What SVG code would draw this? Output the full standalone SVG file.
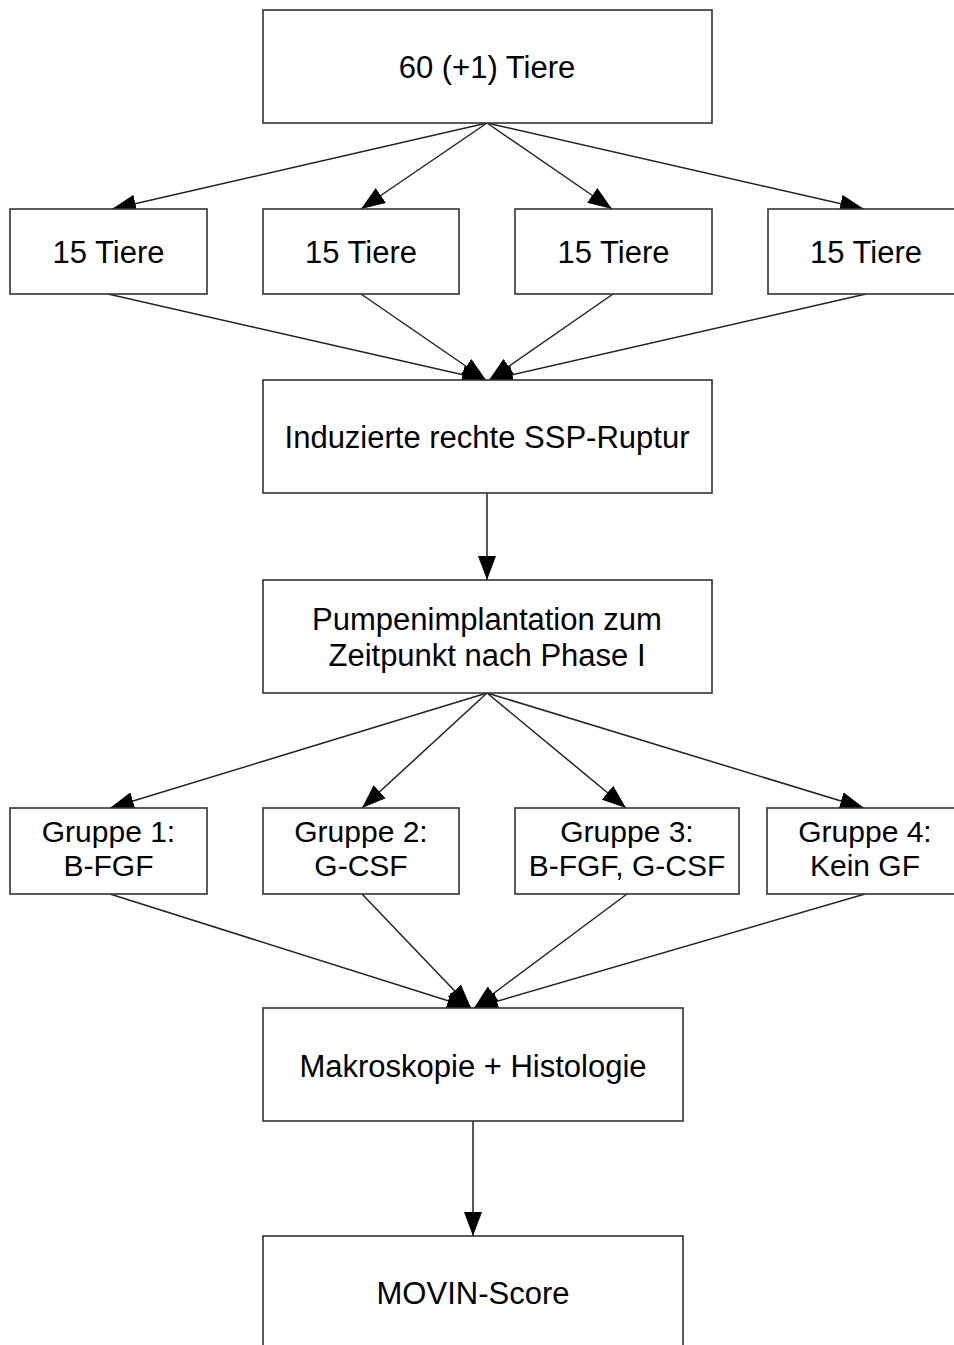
<svg xmlns="http://www.w3.org/2000/svg" width="954" height="1345" viewBox="0 0 954 1345">
<defs>
<marker id="arr" markerUnits="userSpaceOnUse" markerWidth="24" markerHeight="18" refX="24" refY="9" orient="auto">
<path d="M0,0 L24,9 L0,18 z" fill="#000"/>
</marker>
<style>
.box{fill:#fff;stroke:#333;stroke-width:1.6}
.lbl{font-family:"Liberation Sans",Arial,sans-serif;font-size:31px;fill:#000;text-anchor:middle}
.grp{font-size:30px}
.con{stroke:#222;stroke-width:1.5;fill:none;marker-end:url(#arr)}
</style>
</defs>
<rect width="954" height="1345" fill="#fff"/>
<g id="connectors">
<line class="con" x1="487" y1="123" x2="112" y2="209"/>
<line class="con" x1="487" y1="123" x2="361" y2="209"/>
<line class="con" x1="487" y1="123" x2="612" y2="209"/>
<line class="con" x1="487" y1="123" x2="864" y2="209"/>
<line class="con" x1="108" y1="294" x2="486" y2="380"/>
<line class="con" x1="361" y1="294" x2="486" y2="380"/>
<line class="con" x1="613" y1="294" x2="489" y2="380"/>
<line class="con" x1="866" y1="294" x2="489" y2="380"/>
<line class="con" x1="487" y1="493" x2="487" y2="580"/>
<line class="con" x1="487" y1="693" x2="110" y2="808"/>
<line class="con" x1="487" y1="693" x2="362" y2="808"/>
<line class="con" x1="487" y1="693" x2="626" y2="808"/>
<line class="con" x1="487" y1="693" x2="864" y2="808"/>
<line class="con" x1="110" y1="894" x2="471" y2="1008"/>
<line class="con" x1="362" y1="894" x2="471" y2="1008"/>
<line class="con" x1="627" y1="894" x2="474" y2="1008"/>
<line class="con" x1="865" y1="894" x2="474" y2="1008"/>
<line class="con" x1="473" y1="1121" x2="473" y2="1236"/>
</g>
<g id="n-top"><rect class="box" x="263" y="10" width="449" height="113"/><text class="lbl" x="487" y="78">60 (+1) Tiere</text></g>
<g id="n-t1"><rect class="box" x="10" y="209" width="197" height="85"/><text class="lbl" x="108.5" y="263">15 Tiere</text></g>
<g id="n-t2"><rect class="box" x="263" y="209" width="196" height="85"/><text class="lbl" x="361" y="263">15 Tiere</text></g>
<g id="n-t3"><rect class="box" x="515" y="209" width="197" height="85"/><text class="lbl" x="613.5" y="263">15 Tiere</text></g>
<g id="n-t4"><rect class="box" x="768" y="209" width="197" height="85"/><text class="lbl" x="866" y="263">15 Tiere</text></g>
<g id="n-ssp"><rect class="box" x="263" y="380" width="449" height="113"/><text class="lbl" x="487" y="448">Induzierte rechte SSP-Ruptur</text></g>
<g id="n-pumpe"><rect class="box" x="263" y="580" width="449" height="113"/><text class="lbl" x="487" y="630">Pumpenimplantation zum</text><text class="lbl" x="487" y="666">Zeitpunkt nach Phase I</text></g>
<g id="n-g1"><rect class="box" x="10" y="808" width="197" height="86"/><text class="lbl grp" x="108.5" y="842">Gruppe 1:</text><text class="lbl grp" x="108.5" y="876">B-FGF</text></g>
<g id="n-g2"><rect class="box" x="263" y="808" width="196" height="86"/><text class="lbl grp" x="361" y="842">Gruppe 2:</text><text class="lbl grp" x="361" y="876">G-CSF</text></g>
<g id="n-g3"><rect class="box" x="515" y="808" width="224" height="86"/><text class="lbl grp" x="627" y="842">Gruppe 3:</text><text class="lbl grp" x="627" y="876">B-FGF, G-CSF</text></g>
<g id="n-g4"><rect class="box" x="767" y="808" width="197" height="86"/><text class="lbl grp" x="865" y="842">Gruppe 4:</text><text class="lbl grp" x="865" y="876">Kein GF</text></g>
<g id="n-makro"><rect class="box" x="263" y="1008" width="420" height="113"/><text class="lbl" x="473" y="1077">Makroskopie + Histologie</text></g>
<g id="n-movin"><rect class="box" x="263" y="1236" width="420" height="120"/><text class="lbl" x="473" y="1304">MOVIN-Score</text></g>
</svg>
